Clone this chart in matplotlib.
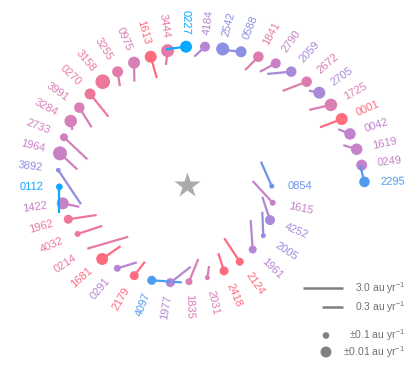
import numpy as np
import matplotlib
matplotlib.use("Agg")
import matplotlib.pyplot as plt
from matplotlib.patches import Circle
from matplotlib.colors import LinearSegmentedColormap

plt.rcParams['font.family'] = ['Liberation Sans', 'DejaVu Sans']
plt.rcParams['mathtext.fontset'] = 'custom'
plt.rcParams['mathtext.rm'] = 'Liberation Sans'
plt.rcParams['mathtext.it'] = 'Liberation Sans'
plt.rcParams['mathtext.bf'] = 'Liberation Sans'

# ---- data ----
labels = ["2295", "0249", "1619", "0042", "0001", "1725", "2705", "2672", "2059", "2790",
          "1841", "0588", "2542", "4184", "0227", "3444", "1613", "0975", "3255", "3158",
          "0270", "3991", "3284", "2733", "1964", "3892", "0112", "1422", "1962", "4032",
          "0214", "1681", "0291", "2179", "4097", "1977", "1835", "2031", "2418", "2124",
          "1961", "2005", "4252", "1615", "0854"]
# position angle (deg) and separation of each object around the star
pos_angle = [1.0, 6.5, 11.9, 17.4, 23.1, 29.1, 34.9, 40.8, 47.4, 53.9,
             60.9, 67.9, 75.3, 82.6, 90.4, 98.2, 105.8, 113.4, 121.5, 129.2,
             136.8, 144.3, 151.2, 158.8, 166.0, 173.4, 180.8, 188.4, 196.1, 204.1,
             212.7, 221.1, 230.1, 239.8, 249.7, 260.3, 271.2, 282.4, 293.3, 304.5,
             315.5, 326.4, 337.1, 348.3, 359.3]
pos_radius = [177.5, 175.8, 173.4, 170.8, 168.2, 164.7, 161.3, 158.1, 154.0, 150.6,
              146.8, 143.8, 140.6, 139.5, 138.3, 135.7, 133.3, 133.3, 132.8, 133.3,
              133.0, 132.6, 132.7, 131.9, 130.9, 129.6, 127.7, 125.6, 123.6, 119.8,
              117.3, 112.5, 108.6, 104.9, 101.6, 99.1, 96.7, 94.9, 93.6, 93.1,
              92.1, 91.6, 90.1, 87.5, 84.7]
# velocity (au/yr), its direction (deg) and its uncertainty (au/yr)
vel = [0.16, 0.002, 0.07, 0.049, 0.43, 0.37, 0.025, 0.62, 0.49, 0.17,
       0.20, 0.14, 0.002, 0.082, 0.26, 0.078, 0.36, 0.21, 0.08, 0.0034,
       0.98, 0.43, 0.015, 1.35, 0.46, 3.25, 0.64, 0.14, 0.92, 0.64,
       3.45, 0.38, 0.27, 0.16, 1.09, 0.64, 0.52, 0.038, 0.195, 0.84,
       1.02, 0.48, 0.52, 1.01, 0.70]
vel_dir = [104.8, 100.0, 163.0, 158.0, 201.0, 193.0, 169.0, 201.0, 185.5, 208.0,
           225.0, 174.0, 180.0, 223.0, 187.0, 263.0, 286.0, 271.0, 279.0, 290.0,
           309.0, 302.0, 280.0, 316.6, 317.0, 303.7, 270.0, 348.0, 8.6, 18.0,
           16.2, 35.0, 17.0, 52.6, 356.0, 38.0, 67.7, 81.7, 107.8, 123.3,
           93.9, 92.4, 108.3, 132.7, 113.8]
vel_unc = [0.012, 0.010, 0.008, 0.008, 0.0066, 0.0055, 0.0066, 0.012, 0.012, 0.015,
           0.012, 0.010, 0.0046, 0.015, 0.0066, 0.0046, 0.0066, 0.0066, 0.010, 0.0027,
           0.010, 0.012, 0.0055, 0.042, 0.0033, 0.5, 0.1, 0.0066, 0.024, 0.15,
           10.0, 0.0066, 0.077, 0.024, 0.024, 0.024, 0.077, 0.35, 0.024, 0.042,
           0.042, 0.35, 0.015, 0.15, 0.35]
color_val = [0.13, 0.55, 0.56, 0.52, 0.97, 0.72, 0.42, 0.74, 0.42, 0.58,
             0.76, 0.30, 0.30, 0.48, 0.00, 0.78, 0.97, 0.68, 0.76, 0.86,
             0.86, 0.70, 0.68, 0.65, 0.58, 0.32, 0.00, 0.58, 0.86, 0.86,
             0.78, 0.97, 0.50, 0.97, 0.13, 0.46, 0.70, 0.70, 0.97, 0.97,
             0.48, 0.34, 0.42, 0.56, 0.20]

legend_vel = [3.0, 0.3]
legend_unc = [0.1, 0.01]

cmap = LinearSegmentedColormap.from_list("c", [
    (0.0, '#0aa8ff'), (0.13, '#4f9bf2'), (0.2, '#6a96ea'), (0.3, '#8d8fe2'),
    (0.42, '#a98ad8'), (0.5, '#bb84d0'), (0.58, '#c981c6'), (0.7, '#d87fb5'),
    (0.78, '#e47aa8'), (0.86, '#ef779b'), (0.97, '#ff6b80'), (1.0, '#ff6878')])


def vlen(v):
    return 40.0 * (np.asarray(v) / 3.0) ** 0.28


def urad(s):
    return 3.3 * (np.asarray(s) / 0.1) ** (-0.22)


W, H = 415, 373
fig = plt.figure(figsize=(W / 100, H / 100), dpi=100)
ax = fig.add_axes([0, 0, 1, 1])
cx, cy = 187, 185
ax.set_xlim(-cx, W - cx)
ax.set_ylim(-(H - cy), cy)
ax.axis('off')

ax.plot([0], [0], marker='*', markersize=19, color='#aaaaaa', mec='none', zorder=1)

for lab, a, r, v, d, s, cv in zip(labels, pos_angle, pos_radius, vel, vel_dir, vel_unc, color_val):
    c = cmap(cv)
    t = np.deg2rad(a)
    x, y = r * np.cos(t), r * np.sin(t)
    ax.add_patch(Circle((x, y), float(urad(s)), color=c, lw=0, zorder=2))
    L = float(vlen(v))
    dd = np.deg2rad(d)
    ax.plot([x, x + L * np.cos(dd)], [y, y + L * np.sin(dd)], color=c, lw=1.6,
            solid_capstyle='butt', zorder=3)
    off = 12 + 4 * abs(np.cos(t))
    lx, ly = (r + off) * np.cos(t), (r + off) * np.sin(t)
    aa = a % 360
    if 90 <= aa < 270:
        rot, ha = aa - 180, 'right'
    else:
        rot, ha = aa, 'left'
    ax.text(lx, ly, lab, color=c, fontsize=8, rotation=rot, rotation_mode='anchor',
            ha=ha, va='center')

# legend
gray = '#808080'
lx_end = 342.7 - cx
ly_rows = [cy - 288.3, cy - 307.3]
for v, yy in zip(legend_vel, ly_rows):
    L = float(vlen(v))
    ax.plot([lx_end - L, lx_end], [yy, yy], color=gray, lw=1.8, solid_capstyle='butt')
    ax.text(405 - cx, yy, f'{v:.1f} au yr$^{{-1}}$', color='#707070', fontsize=7.5,
            ha='right', va='center')
dot_rows = [cy - 335.5, cy - 352.0]
for s, yy in zip(legend_unc, dot_rows):
    ax.add_patch(Circle((326 - cx, yy), float(urad(s)), color=gray, lw=0))
    ax.text(405 - cx, yy, f'\u00b1{s:g} au yr$^{{-1}}$', color='#707070', fontsize=7.5,
            ha='right', va='center')

fig.savefig('out.png', dpi=100)
